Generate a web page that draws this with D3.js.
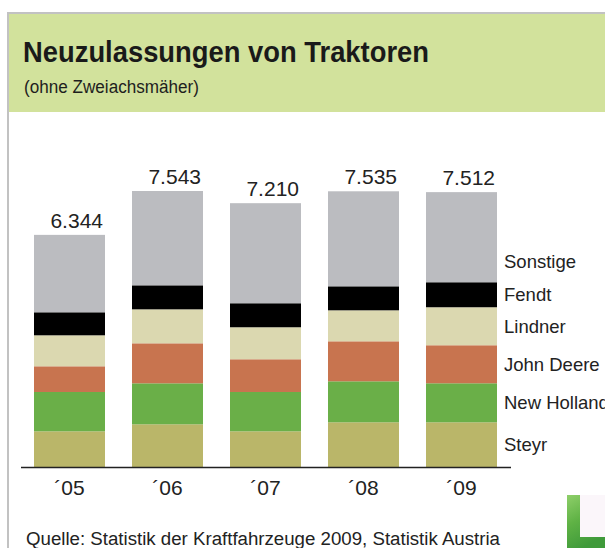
<!DOCTYPE html>
<html>
<head>
<meta charset="utf-8">
<script src="https://cdnjs.cloudflare.com/ajax/libs/d3/7.8.5/d3.min.js"></script>
<style>
  body { margin: 0; background: #fff; }
  svg { display: block; font-family: "Liberation Sans", Arial, sans-serif; }
</style>
</head>
<body>
<svg id="chart" width="605" height="548"></svg>
<script>
// years and totals
const years = ["´05", "´06", "´07", "´08", "´09"];
const totals = [6344, 7543, 7210, 7535, 7512];

// brands, bottom to top
const brands = ["Steyr", "New Holland", "John Deere", "Lindner", "Fendt", "Sonstige"];
const brandColors = ["#bab669", "#6aaf48", "#c8744f", "#dbd8b0", "#000000", "#bbbcc0"];

// values per brand, one per year
const steyr = [976, 1167, 976, 1222, 1222];
const newHolland = [1074, 1120, 1074, 1120, 1066];
const johnDeere = [702, 1093, 894, 1093, 1039];
const lindner = [847, 929, 875, 847, 1039];
const fendt = [629, 656, 656, 656, 683];
const sonstige = [2116, 2578, 2735, 2597, 2463];

const svg = d3.select("#chart");

// frame and header
svg.append("rect")
  .attr("x", 8).attr("y", 13).attr("width", 600).attr("height", 540)
  .attr("fill", "#fff").attr("stroke", "#c2c2c2").attr("stroke-width", 2);
svg.append("rect")
  .attr("x", 9).attr("y", 14).attr("width", 596).attr("height", 98)
  .attr("fill", "#d2e29c");

svg.append("text")
  .attr("x", 23).attr("y", 62)
  .attr("textLength", 406).attr("lengthAdjust", "spacingAndGlyphs")
  .style("font-size", "29px").style("font-weight", "bold").attr("fill", "#1a1a1a")
  .text("Neuzulassungen von Traktoren");
svg.append("text")
  .attr("x", 24).attr("y", 93)
  .attr("textLength", 175).attr("lengthAdjust", "spacingAndGlyphs")
  .style("font-size", "18px").attr("fill", "#1e1e1e")
  .text("(ohne Zweiachsmäher)");

// build rows for the stack
let rows = [];
for (var i = 0; i < years.length; i++) {
  rows.push({
    year: years[i],
    "Steyr": steyr[i],
    "New Holland": newHolland[i],
    "John Deere": johnDeere[i],
    "Lindner": lindner[i],
    "Fendt": fendt[i],
    "Sonstige": sonstige[i]
  });
}

const stacked = d3.stack().keys(brands)(rows);

const xScale = d3.scaleBand()
  .domain(years)
  .range([20.5, 510.5])
  .paddingInner(27 / 98)
  .paddingOuter(27 / 196);

const yScale = d3.scaleLinear()
  .domain([0, 8000])
  .range([467, 467 - 8000 * 276 / 7543]);

const color = d3.scaleOrdinal().domain(brands).range(brandColors);

// bars
svg.append("g")
  .selectAll("g")
  .data(stacked)
  .join("g")
  .attr("fill", d => color(d.key))
  .selectAll("rect")
  .data(d => d)
  .join("rect")
  .attr("x", d => xScale(d.data.year))
  .attr("y", d => yScale(d[1]))
  .attr("width", xScale.bandwidth())
  .attr("height", d => yScale(d[0]) - yScale(d[1]));

// totals above bars
svg.append("g")
  .selectAll("text")
  .data(years)
  .join("text")
  .attr("x", (d, i) => xScale(d) + xScale.bandwidth() - 2)
  .attr("y", (d, i) => yScale(totals[i]) - 7)
  .attr("text-anchor", "end")
  .style("font-size", "21px").attr("fill", "#222")
  .text((d, i) => d3.format(",")(totals[i]).replace(/,/g, "."));

// x axis
const xAxis = svg.append("g")
  .attr("transform", "translate(0,467)")
  .call(d3.axisBottom(xScale).tickSize(0).tickPadding(13));
xAxis.select(".domain").attr("stroke", "#222").attr("stroke-width", 1.5);
xAxis.selectAll("text")
  .style("font-size", "21px")
  .style("font-family", "'Liberation Sans', Arial, sans-serif")
  .attr("fill", "#222");

// brand labels next to the last bar
const lastYear = years[years.length - 1];
svg.append("g")
  .selectAll("text")
  .data(stacked)
  .join("text")
  .attr("x", xScale(lastYear) + xScale.bandwidth() + 7)
  .attr("y", function(d) {
    let seg = d[d.length - 1];
    if (d.key === "Sonstige") return yScale(seg[0]) - 21;
    return (yScale(seg[0]) + yScale(seg[1])) / 2;
  })
  .attr("dy", "0.35em")
  .style("font-size", "18.5px").attr("fill", "#222")
  .text(d => d.key);

// source
svg.append("text")
  .attr("x", 26).attr("y", 545)
  .attr("textLength", 474).attr("lengthAdjust", "spacingAndGlyphs")
  .style("font-size", "18px").attr("fill", "#222")
  .text("Quelle: Statistik der Kraftfahrzeuge 2009, Statistik Austria");

// corner logo piece
const grad = svg.append("defs").append("linearGradient")
  .attr("id", "leaf").attr("x1", 0).attr("y1", 0).attr("x2", 0.4).attr("y2", 1);
grad.append("stop").attr("offset", "0%").attr("stop-color", "#8fcf6a");
grad.append("stop").attr("offset", "50%").attr("stop-color", "#5fb245");
grad.append("stop").attr("offset", "100%").attr("stop-color", "#3f9a3a");
svg.append("rect")
  .attr("x", 567).attr("y", 495).attr("width", 38).attr("height", 53)
  .attr("fill", "url(#leaf)");
svg.append("rect")
  .attr("x", 580).attr("y", 495).attr("width", 25).attr("height", 42)
  .attr("fill", "#fbf6fa");
</script>
</body>
</html>
